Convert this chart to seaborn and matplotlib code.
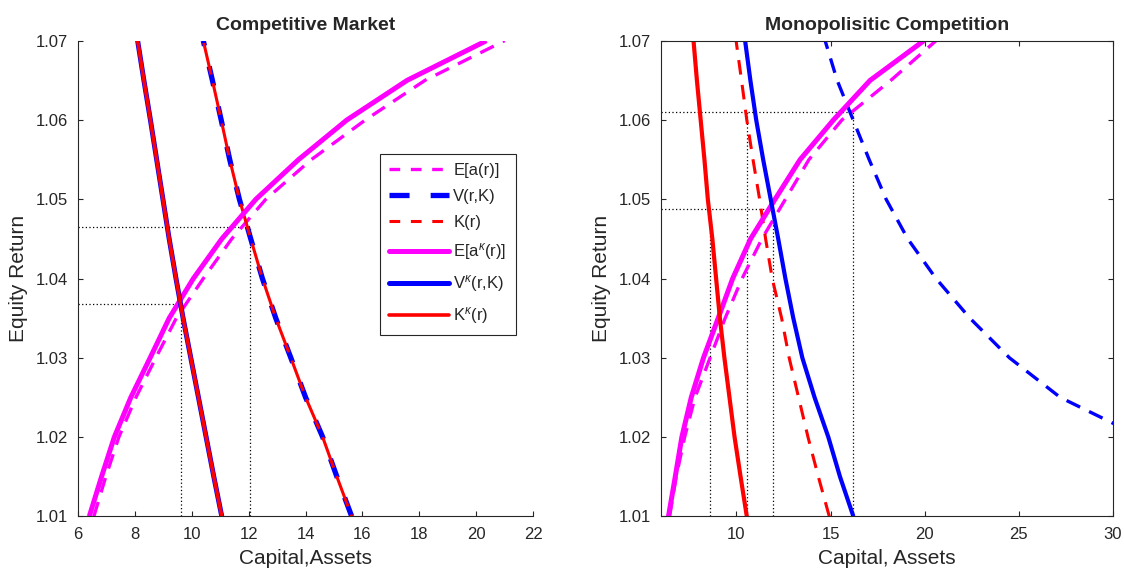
import numpy as np
import pandas as pd
import matplotlib
matplotlib.use('Agg')
import matplotlib.pyplot as plt
from matplotlib.lines import Line2D
import seaborn as sns

# equity return grid (y axis)
r = [1.01, 1.015, 1.02, 1.025, 1.03, 1.035, 1.04, 1.045, 1.05, 1.055, 1.06, 1.065, 1.07]

# competitive market
cm_ea = [6.55, 6.97, 7.43, 8.03, 8.73, 9.45, 10.4, 11.4, 12.6, 14.2, 16.1, 18.2, 21.0]
cm_v = [15.62, 15.1, 14.6, 14.0, 13.48, 12.95, 12.48, 12.07, 11.67, 11.33, 11.03, 10.72, 10.40]
cm_k = [15.62, 15.1, 14.6, 14.0, 13.48, 12.95, 12.48, 12.07, 11.67, 11.33, 11.03, 10.72, 10.40]
cm_ea_k = [6.39, 6.82, 7.27, 7.85, 8.53, 9.2, 10.05, 11.05, 12.25, 13.75, 15.45, 17.57, 20.36]
cm_vk = [11.05, 10.77, 10.5, 10.23, 9.96, 9.69, 9.44, 9.2, 8.98, 8.76, 8.54, 8.31, 8.09]
cm_kk = [11.05, 10.77, 10.5, 10.23, 9.96, 9.69, 9.44, 9.2, 8.98, 8.76, 8.54, 8.31, 8.09]
cm_eq_r = [1.0368, 1.0465]
cm_eq_x = [9.6, 12.05]

# monopolistic competition
mc_ea = [6.45, 6.8, 7.25, 7.8, 8.6, 9.4, 10.3, 11.35, 12.6, 13.85, 15.6, 18.2, 20.6]
mc_v = [41.0, 36.0, 31.5, 27.2, 24.5, 22.4, 20.6, 19.1, 17.95, 17.05, 16.2, 15.35, 14.71]
mc_k = [14.93, 14.35, 13.8, 13.3, 12.8, 12.4, 11.9, 11.55, 11.23, 10.88, 10.55, 10.27, 9.98]
mc_ea_k = [6.39, 6.75, 7.1, 7.6, 8.25, 9.03, 9.8, 10.75, 12.05, 13.38, 15.15, 17.1, 19.95]
mc_vk = [16.21, 15.5, 14.88, 14.15, 13.5, 13.02, 12.6, 12.22, 11.82, 11.42, 11.05, 10.74, 10.46]
mc_kk = [10.55, 10.22, 9.9, 9.63, 9.36, 9.12, 8.92, 8.72, 8.48, 8.3, 8.1, 7.9, 7.72]
mc_eq_r = [1.0488, 1.061]
mc_eq_lo = [8.6, 10.55]
mc_eq_hi = [11.95, 16.2]

labels = ['E[a(r)]', 'V(r,K)', 'K(r)',
          r'E[a$^{\kappa}$(r)]', r'V$^{\kappa}$(r,K)', r'K$^{\kappa}$(r)']

sns.set_style('white')
plt.rcParams['font.family'] = ['Liberation Sans', 'DejaVu Sans']
plt.rcParams['mathtext.fontset'] = 'custom'
plt.rcParams['mathtext.rm'] = 'Liberation Sans'
plt.rcParams['mathtext.it'] = 'Liberation Sans:italic'

GREY = '#262626'
MAG, BLU, RED = '#ff00ff', '#0000ff', '#ff0000'
DASH = (0, (4.5, 3))

fig = plt.figure(figsize=(11.24, 5.76), dpi=100)
ax1 = fig.add_axes([0.0696, 0.1036, 0.4046, 0.8257])
ax2 = fig.add_axes([0.5882, 0.1036, 0.4020, 0.8257])


def curve(ax, xs, color, lw, ls, z=2):
    sns.lineplot(x=xs, y=r, sort=False, estimator=None, ax=ax, color=color,
                 linewidth=lw, linestyle=ls, zorder=z,
                 dash_capstyle='butt', solid_capstyle='butt')


dot = (0, (1, 1.9))

# left panel
for x, y in zip(cm_eq_x, cm_eq_r):
    ax1.plot([6, x], [y, y], color='black', lw=0.9, ls=dot, zorder=1)
    ax1.plot([x, x], [1.01, y], color='black', lw=0.9, ls=dot, zorder=1)
curve(ax1, cm_ea, MAG, 2.4, DASH)
curve(ax1, cm_v, BLU, 3.8, (0, (3.8, 4.0)))
curve(ax1, cm_k, RED, 2.2, (10.0, (10.6, 2.9)))
curve(ax1, cm_ea_k, MAG, 3.6, '-')
curve(ax1, cm_vk, BLU, 3.6, '-')
curve(ax1, cm_kk, RED, 2.6, '-')

# right panel
for y, lo, hi in zip(mc_eq_r, mc_eq_lo, mc_eq_hi):
    ax2.plot([6, hi], [y, y], color='black', lw=0.9, ls=dot, zorder=1)
    for x in (lo, hi):
        ax2.plot([x, x], [1.01, y], color='black', lw=0.9, ls=dot, zorder=1)
curve(ax2, mc_ea, MAG, 2.4, DASH)
curve(ax2, mc_v, BLU, 2.4, DASH)
curve(ax2, mc_k, RED, 2.2, (0, (4.8, 3.4)))
curve(ax2, mc_ea_k, MAG, 3.6, '-')
curve(ax2, mc_vk, BLU, 3.0, '-')
curve(ax2, mc_kk, RED, 3.0, '-')

ax1.set_xlim(6, 22)
ax1.set_xticks(np.arange(6, 23, 2))
ax2.set_xlim(6, 30)
ax2.set_xticks([10, 15, 20, 25, 30])

for ax in (ax1, ax2):
    ax.set_ylim(1.01, 1.07)
    ax.set_yticks([1.01, 1.02, 1.03, 1.04, 1.05, 1.06, 1.07])
    ax.set_yticklabels(['%.2f' % v for v in ax.get_yticks()])
    ax.set_ylabel('Equity Return', fontsize=15, color=GREY, labelpad=5)
    ax.tick_params(direction='in', length=3.5, width=0.8, labelsize=12,
                   colors=GREY, pad=7.5, left=True, bottom=True)
    for s in ax.spines.values():
        s.set_color(GREY)
        s.set_linewidth(0.8)

ax1.spines['top'].set_visible(False)
ax1.spines['right'].set_visible(False)
ax2.tick_params(top=True, right=True)

ax1.set_xlabel('Capital,Assets', fontsize=15, color=GREY, labelpad=5)
ax2.set_xlabel('Capital, Assets', fontsize=15, color=GREY, labelpad=5)
ax1.set_title('Competitive Market', fontsize=14, fontweight='bold', pad=8)
ax2.set_title('Monopolisitic Competition', fontsize=14, fontweight='bold', pad=8)

# legend keys
handles = [Line2D([], [], color=MAG, lw=2.4, ls=(0, (3.2, 3.2))),
           Line2D([], [], color=BLU, lw=3.8, ls=(0, (3.8, 4.0))),
           Line2D([], [], color=RED, lw=2.2, ls=(0, (3.5, 3.5))),
           Line2D([], [], color=MAG, lw=3.6),
           Line2D([], [], color=BLU, lw=3.6),
           Line2D([], [], color=RED, lw=2.6)]
leg = ax1.legend(handles, labels, loc='upper left',
                 bbox_to_anchor=(0.6637, 0.7618), fontsize=12,
                 handlelength=3.6, handletextpad=0.25, labelspacing=0.66,
                 borderpad=0.55, borderaxespad=0, fancybox=False,
                 framealpha=1, edgecolor=GREY)
leg.get_frame().set_linewidth(0.8)

fig.savefig('out.png', dpi=100)
